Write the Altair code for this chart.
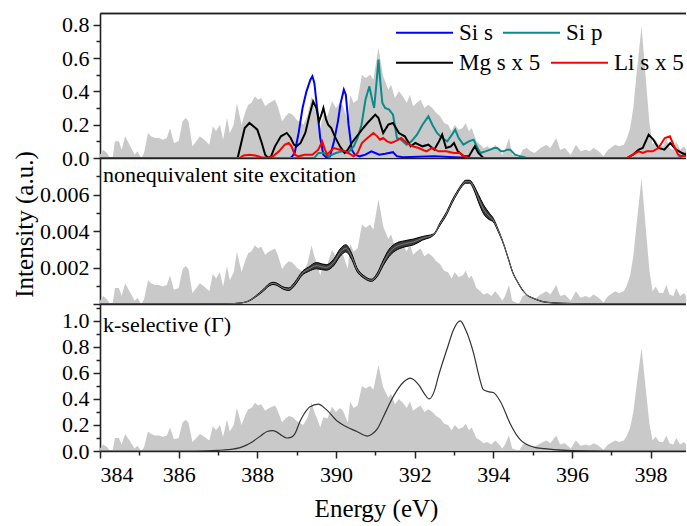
import altair as alt
import pandas as pd

# ---------------- data ----------------
GRAY_E = [384.00, 384.08, 384.18, 384.25, 384.32, 384.38, 384.48, 384.55, 384.64, 384.75,
          384.88, 384.95, 385.05, 385.12, 385.22, 385.30, 385.40, 385.50, 385.60, 385.70,
          385.78, 385.88, 386.00, 386.10, 386.18, 386.25, 386.35, 386.45, 386.54, 386.65,
          386.78, 386.87, 386.95, 387.05, 387.13, 387.23, 387.30, 387.40, 387.48, 387.60,
          387.70, 387.77, 387.85, 387.94, 388.02, 388.10, 388.20, 388.30, 388.45, 388.52,
          388.63, 388.72, 388.80, 388.90, 389.00, 389.17, 389.28, 389.38, 389.45, 389.52,
          389.60, 389.68, 389.78, 389.90, 390.00, 390.10, 390.18, 390.30, 390.36, 390.45,
          390.55, 390.66, 390.75, 390.87, 390.95, 391.08, 391.20, 391.33, 391.40, 391.50,
          391.60, 391.70, 391.80, 391.88, 391.96, 392.05, 392.15, 392.25, 392.35, 392.45,
          392.55, 392.65, 392.75, 392.85, 392.94, 393.02, 393.12, 393.22, 393.30, 393.38,
          393.45, 393.57, 393.67, 393.75, 393.85, 393.95, 394.05, 394.15, 394.23, 394.30,
          394.40, 394.48, 394.58, 394.65, 394.75, 394.85, 394.95, 395.05, 395.20, 395.35,
          395.45, 395.60, 395.70, 395.82, 395.97, 396.10, 396.22, 396.35, 396.45, 396.55,
          396.68, 396.80, 396.92, 397.10, 397.20, 397.32, 397.40, 397.48, 397.56, 397.65,
          397.77, 397.87, 397.97, 398.05, 398.13, 398.22, 398.32, 398.40, 398.48, 398.58,
          398.65, 398.75, 398.85, 398.90]
GRAY_I = [0.02, 0.05, 0.03, 0.00, 0.00, 0.10, 0.10, 0.05, 0.13, 0.08,
          0.02, 0.04, 0.00, 0.03, 0.15, 0.13, 0.12, 0.12, 0.11, 0.12,
          0.18, 0.09, 0.10, 0.22, 0.24, 0.22, 0.07, 0.10, 0.13, 0.11,
          0.08, 0.19, 0.16, 0.20, 0.11, 0.24, 0.15, 0.20, 0.33, 0.20,
          0.28, 0.32, 0.33, 0.37, 0.35, 0.36, 0.31, 0.33, 0.35, 0.31,
          0.22, 0.25, 0.27, 0.26, 0.23, 0.20, 0.26, 0.37, 0.30, 0.25,
          0.18, 0.26, 0.25, 0.34, 0.30, 0.33, 0.31, 0.22, 0.38, 0.33,
          0.35, 0.50, 0.48, 0.50, 0.47, 0.66, 0.49, 0.41, 0.44, 0.36,
          0.40, 0.37, 0.33, 0.38, 0.31, 0.33, 0.35, 0.30, 0.32, 0.30,
          0.27, 0.25, 0.21, 0.20, 0.16, 0.20, 0.17, 0.18, 0.21, 0.16,
          0.18, 0.10, 0.08, 0.06, 0.07, 0.05, 0.08, 0.05, 0.02, 0.05,
          0.12, 0.02, 0.01, 0.00, 0.05, 0.06, 0.04, 0.03, 0.06, 0.08,
          0.06, 0.12, 0.05, 0.06, 0.02, 0.08, 0.04, 0.05, 0.04, 0.06,
          0.04, 0.01, 0.05, 0.08, 0.07, 0.08, 0.12, 0.18, 0.30, 0.52,
          0.79, 0.50, 0.21, 0.08, 0.11, 0.07, 0.07, 0.12, 0.06, 0.05,
          0.10, 0.05, 0.07, 0.05]
GRAY_MID_SCALE = 0.0087
GRAY_BOT_SCALE = 1.0

SIS_E = [384.0, 388.85, 388.95, 389.05, 389.15, 389.25, 389.35, 389.40, 389.45, 389.52,
         389.60, 389.68, 389.75, 389.85, 389.95, 390.05, 390.12, 390.20, 390.25, 390.32,
         390.40, 390.48, 390.60, 390.75, 390.90, 391.00, 391.10, 391.25, 391.45, 391.55,
         391.70, 392.50, 393.00, 393.50, 398.70, 398.90]
SIS_I = [0.0, 0.0, 0.03, 0.15, 0.30, 0.40, 0.47, 0.49, 0.45, 0.30,
         0.12, 0.02, 0.005, 0.01, 0.10, 0.22, 0.33, 0.41, 0.38, 0.20,
         0.05, 0.02, 0.01, 0.02, 0.04, 0.03, 0.02, 0.025, 0.035, 0.01,
         0.005, 0.01, 0.005, 0.0, 0.0, 0.02]

SIP_E = [384.0, 389.45, 389.55, 389.70, 389.80, 390.00, 390.15, 390.30, 390.45, 390.55,
         390.65, 390.75, 390.85, 390.92, 390.97, 391.03, 391.08, 391.13, 391.18, 391.25,
         391.35, 391.45, 391.55, 391.65, 391.80, 391.92, 392.06, 392.20, 392.35, 392.45,
         392.57, 392.70, 392.83, 392.95, 393.03, 393.12, 393.24, 393.38, 393.50, 393.60,
         393.67, 393.80, 393.92, 394.02, 394.10, 394.20, 394.26, 394.35, 394.43, 394.55,
         394.69, 394.85, 398.70, 398.85, 398.90]
SIP_I = [0.0, 0.0, 0.03, 0.03, 0.01, 0.03, 0.04, 0.03, 0.07, 0.12,
         0.20, 0.35, 0.43, 0.35, 0.30, 0.45, 0.59, 0.45, 0.33, 0.30,
         0.29, 0.26, 0.12, 0.11, 0.08, 0.10, 0.14, 0.20, 0.25, 0.20,
         0.15, 0.12, 0.10, 0.14, 0.17, 0.12, 0.08, 0.10, 0.11, 0.06,
         0.03, 0.04, 0.05, 0.06, 0.06, 0.04, 0.04, 0.05, 0.05, 0.02,
         0.01, 0.0, 0.0, 0.02, 0.03]

MG_E = [384.0, 387.50, 387.58, 387.68, 387.80, 387.90, 388.00, 388.10, 388.20, 388.27,
        388.35, 388.45, 388.60, 388.75, 388.85, 388.93, 389.00, 389.10, 389.22, 389.32,
        389.42, 389.50, 389.57, 389.63, 389.68, 389.75, 389.80, 389.88, 389.97, 390.10,
        390.22, 390.30, 390.40, 390.53, 390.66, 390.80, 390.92, 391.00, 391.08, 391.20,
        391.33, 391.45, 391.60, 391.75, 391.90, 392.02, 392.20, 392.35, 392.50, 392.62,
        392.70, 392.80, 392.92, 393.00, 393.10, 393.25, 393.38, 393.53, 393.62, 393.75,
        397.40, 397.55, 397.70, 397.80, 397.95, 398.07, 398.20, 398.35, 398.50, 398.65,
        398.80, 398.90]
MG_I = [0.0, 0.0, 0.08, 0.18, 0.21, 0.19, 0.17, 0.10, 0.02, 0.0,
        0.01, 0.07, 0.13, 0.15, 0.12, 0.08, 0.07, 0.09, 0.15, 0.25,
        0.34, 0.30, 0.22, 0.26, 0.30, 0.23, 0.20, 0.18, 0.13, 0.07,
        0.03, 0.05, 0.09, 0.13, 0.17, 0.21, 0.24, 0.26, 0.24, 0.15,
        0.20, 0.21, 0.15, 0.13, 0.07, 0.09, 0.07, 0.08, 0.05, 0.10,
        0.14, 0.06, 0.07, 0.09, 0.04, 0.01, 0.01, 0.07, 0.03, 0.0,
        0.0, 0.02, 0.05, 0.06, 0.14, 0.11, 0.06, 0.05, 0.09, 0.05,
        0.03, 0.02]

LI_E = [384.0, 387.55, 387.65, 387.80, 387.95, 388.10, 388.27, 388.40, 388.55, 388.70,
        388.80, 388.87, 388.95, 389.05, 389.20, 389.40, 389.55, 389.65, 389.72, 389.78,
        389.85, 389.95, 390.10, 390.25, 390.45, 390.55, 390.66, 390.80, 390.95, 391.05,
        391.12, 391.20, 391.30, 391.40, 391.50, 391.66, 391.80, 391.95, 392.10, 392.30,
        392.45, 392.60, 392.80, 393.00, 393.15, 393.25, 393.40, 397.40, 397.55, 397.70,
        397.80, 397.90, 398.05, 398.20, 398.36, 398.49, 398.60, 398.70, 398.80, 398.90]
LI_I = [0.0, 0.0, 0.015, 0.02, 0.015, 0.005, 0.0, 0.01, 0.04, 0.08,
        0.09, 0.07, 0.02, 0.01, 0.02, 0.02, 0.05, 0.10, 0.05, 0.02,
        0.04, 0.06, 0.05, 0.04, 0.01, 0.03, 0.09, 0.12, 0.15, 0.13,
        0.11, 0.12, 0.10, 0.09, 0.10, 0.12, 0.09, 0.07, 0.06, 0.04,
        0.06, 0.04, 0.04, 0.03, 0.03, 0.01, 0.0, 0.0, 0.02, 0.04,
        0.03, 0.04, 0.04, 0.06, 0.12, 0.13, 0.07, 0.02, 0.01, 0.01]

SERIES_ROW1 = ["Si s", "Si p"]
COLORS_ROW1 = ["#0000ff", "#0a8a8a"]
SERIES_ROW2 = ["Mg s x 5", "Li s x 5"]
COLORS_ROW2 = ["#000000", "#ff0000"]

# nonequivalent site excitation: envelope of the bundle of curves
NE_E = [384.0, 386.5, 387.2, 387.5, 387.74, 387.95, 388.16, 388.30, 388.40, 388.50,
        388.65, 388.80, 388.95, 389.15, 389.30, 389.50, 389.75, 389.95, 390.10, 390.25,
        390.40, 390.53, 390.70, 390.90, 391.05, 391.20, 391.35, 391.50, 391.75, 391.97,
        392.20, 392.48, 392.65, 392.82, 392.95, 393.08, 393.20, 393.30, 393.40, 393.50,
        393.62, 393.75, 393.90, 394.00, 394.13, 394.26, 394.38, 394.50, 394.62, 394.73,
        394.85, 395.00, 395.33, 395.70, 396.00, 396.50, 398.90]
NE_LO = [0.0, 0.0, 0.00001, 0.00004, 0.00012, 0.00037, 0.00072, 0.00099, 0.00107, 0.00102,
         0.00082, 0.00074, 0.00101, 0.00160, 0.00178, 0.00193, 0.00185, 0.00212, 0.00260, 0.00285,
         0.00244, 0.00180, 0.00143, 0.00124, 0.00150, 0.00210, 0.00260, 0.00290, 0.00313, 0.00324,
         0.00350, 0.00376, 0.00433, 0.00492, 0.00552, 0.00603, 0.00643, 0.00662, 0.00662, 0.00628,
         0.00560, 0.00495, 0.00462, 0.00450, 0.00394, 0.00327, 0.00248, 0.00168, 0.00118, 0.00078,
         0.00049, 0.00032, 0.00009, 0.00003, 0.00001, 0.0, 0.0]
NE_HI = [0.0, 0.0, 0.00001, 0.00004, 0.00014, 0.00043, 0.00082, 0.00111, 0.00119, 0.00114,
         0.00094, 0.00088, 0.00119, 0.00180, 0.00202, 0.00227, 0.00215, 0.00248, 0.00300, 0.00325,
         0.00276, 0.00200, 0.00157, 0.00136, 0.00170, 0.00240, 0.00300, 0.00330, 0.00347, 0.00356,
         0.00370, 0.00384, 0.00447, 0.00508, 0.00568, 0.00617, 0.00657, 0.00678, 0.00678, 0.00652,
         0.00600, 0.00545, 0.00498, 0.00470, 0.00406, 0.00333, 0.00252, 0.00172, 0.00122, 0.00082,
         0.00051, 0.00034, 0.00011, 0.00005, 0.00003, 0.0, 0.0]

# k-selective (Gamma)
KS_E = [384.0, 386.4, 387.0, 387.26, 387.6, 387.87, 388.1, 388.25, 388.38, 388.5,
        388.62, 388.75, 388.85, 388.95, 389.09, 389.2, 389.34, 389.55, 389.75, 390.03,
        390.24, 390.53, 390.8, 390.92, 391.05, 391.2, 391.46, 391.72, 391.89, 392.1,
        392.25, 392.37, 392.5, 392.6, 392.82, 393.0, 393.16, 393.3, 393.5, 393.65,
        393.75, 393.9, 394.0, 394.18, 394.43, 394.6, 394.69, 394.85, 395.03, 395.3,
        395.54, 396.0, 397.0, 398.9]
KS_I = [0.0, 0.0, 0.005, 0.01, 0.03, 0.07, 0.12, 0.15, 0.156, 0.145,
        0.12, 0.10, 0.105, 0.13, 0.23, 0.29, 0.34, 0.36, 0.32, 0.23,
        0.19, 0.15, 0.115, 0.13, 0.17, 0.26, 0.42, 0.53, 0.56, 0.51,
        0.44, 0.40, 0.46, 0.57, 0.78, 0.94, 1.0, 0.93, 0.75, 0.56,
        0.47, 0.455, 0.45, 0.38, 0.21, 0.12, 0.085, 0.05, 0.03, 0.018,
        0.01, 0.003, 0.0, 0.0]

X_TICKS = list(range(384, 399))
TOP_TICKS = [0.0, 0.1, 0.2, 0.3, 0.4, 0.5, 0.6, 0.7, 0.8]
MID_TICKS = [0.0, 0.001, 0.002, 0.003, 0.004, 0.005, 0.006, 0.007]
BOT_TICKS = [0.0, 0.1, 0.2, 0.3, 0.4, 0.5, 0.6, 0.7, 0.8, 0.9, 1.0, 1.1]

# ---------------- tables ----------------
gray_top = pd.DataFrame({"E": GRAY_E, "I": GRAY_I})
gray_mid = pd.DataFrame({"E": GRAY_E, "I": [v * GRAY_MID_SCALE for v in GRAY_I]})
gray_bot = pd.DataFrame({"E": GRAY_E, "I": [v * GRAY_BOT_SCALE for v in GRAY_I]})

pdos1 = pd.concat([
    pd.DataFrame({"E": SIS_E, "I": SIS_I, "s": SERIES_ROW1[0]}),
    pd.DataFrame({"E": SIP_E, "I": SIP_I, "s": SERIES_ROW1[1]}),
], ignore_index=True)
pdos2 = pd.concat([
    pd.DataFrame({"E": MG_E, "I": MG_I, "s": SERIES_ROW2[0]}),
    pd.DataFrame({"E": LI_E, "I": LI_I, "s": SERIES_ROW2[1]}),
], ignore_index=True)

ne = pd.DataFrame({"E": NE_E, "lo": NE_LO, "hi": NE_HI,
                   "mid": [(a + b) / 2 for a, b in zip(NE_LO, NE_HI)]})
ks = pd.DataFrame({"E": KS_E, "I": KS_I})

# ---------------- layout ----------------
FONT = "Liberation Serif"
W = 586
XDOM = [384, 398.9]
GRAY = "#c9c9c9"

xscale = alt.Scale(domain=XDOM, nice=False, zero=False)
x_plain = alt.Axis(title=None, labels=False, ticks=False, domain=True, orient="bottom")
x_top = alt.Axis(title=None, labels=False, ticks=False, domain=True, orient="top")
x_bottom = alt.Axis(
    title="Energy (eV)", values=X_TICKS, orient="bottom",
    labelExpr="datum.value % 2 == 0 ? format(datum.value, 'd') : ''",
    tickSize={"condition": {"test": "datum.value % 2 == 0", "value": 7}, "value": 4},
    labelPadding=6, titlePadding=11, titleX=276,
    labelFont=FONT, labelFontSize=22, titleFont=FONT, titleFontSize=25,
)


def yaxis(values, labelexpr, major_test, **kw):
    return alt.Axis(values=values, labelExpr=labelexpr,
                    tickSize={"condition": {"test": major_test, "value": 7}, "value": 4},
                    labelPadding=4, labelFont=FONT, labelFontSize=22, **kw)


y_top_axis = yaxis(TOP_TICKS,
                   "round(datum.value*10) % 2 == 0 ? format(datum.value, '.1f') : ''",
                   "round(datum.value*10) % 2 == 0", title=None)
y_mid_axis = yaxis(MID_TICKS,
                   "indexof([2,4,6], round(datum.value*1000)) >= 0 ? format(datum.value, '.3f') : ''",
                   "round(datum.value*1000) % 2 == 0",
                   title="Intensity (a.u.)", titlePadding=2, titleY=66,
                   titleFont=FONT, titleFontSize=25)
y_bot_axis = yaxis(BOT_TICKS,
                   "round(datum.value*10) % 2 == 0 ? format(datum.value, '.1f') : ''",
                   "round(datum.value*10) % 2 == 0", title=None)

ytop = alt.Scale(domain=[0, 0.87], nice=False, zero=False)
ymid = alt.Scale(domain=[0, 0.008], nice=False, zero=False)
ybot = alt.Scale(domain=[0, 1.13], nice=False, zero=False)


def row_legend(y):
    return alt.Legend(title=None, orient="none", legendX=295, legendY=y,
                      direction="horizontal", columnPadding=6,
                      symbolType="stroke", symbolSize=3249, symbolStrokeWidth=2,
                      labelFont=FONT, labelFontSize=23, labelOffset=5, padding=0,
                      labelLimit=0, labelColor="black")


# ---- top panel ----
top_gray = alt.Chart(gray_top).mark_area(color=GRAY, clip=True).encode(
    x=alt.X("E:Q", scale=xscale, axis=x_plain),
    y=alt.Y("I:Q", scale=ytop, axis=y_top_axis),
)
top_lines1 = alt.Chart(pdos1).mark_line(strokeWidth=2, clip=True).encode(
    x=alt.X("E:Q", scale=xscale, axis=x_top),
    y=alt.Y("I:Q", scale=ytop, axis=y_top_axis),
    color=alt.Color("s:N", scale=alt.Scale(domain=SERIES_ROW1, range=COLORS_ROW1),
                    legend=row_legend(-10)),
)
top_lines2 = alt.Chart(pdos2).mark_line(strokeWidth=2, clip=True).encode(
    x=alt.X("E:Q", scale=xscale, axis=x_top),
    y=alt.Y("I:Q", scale=ytop, axis=y_top_axis),
    color=alt.Color("s:N", scale=alt.Scale(domain=SERIES_ROW2, range=COLORS_ROW2),
                    legend=row_legend(20)),
)
top = alt.layer(top_gray, top_lines1, top_lines2).resolve_axis(x="independent").resolve_scale(
    color="independent").properties(width=W, height=145)

# ---- middle panel ----
mid_gray = alt.Chart(gray_mid).mark_area(color=GRAY, clip=True).encode(
    x=alt.X("E:Q", scale=xscale, axis=x_plain),
    y=alt.Y("I:Q", scale=ymid, axis=y_mid_axis),
)
mid_band = alt.Chart(ne).mark_area(color="#3a3a3a", interpolate="monotone", clip=True).encode(
    x=alt.X("E:Q", scale=xscale, axis=x_plain),
    y=alt.Y("lo:Q", scale=ymid, axis=y_mid_axis),
    y2="hi:Q",
)
mid_lo = alt.Chart(ne).mark_line(color="black", strokeWidth=1, interpolate="monotone", clip=True).encode(
    x=alt.X("E:Q", scale=xscale, axis=x_plain),
    y=alt.Y("lo:Q", scale=ymid, axis=y_mid_axis),
)
mid_hi = alt.Chart(ne).mark_line(color="black", strokeWidth=1, interpolate="monotone", clip=True).encode(
    x=alt.X("E:Q", scale=xscale, axis=x_plain),
    y=alt.Y("hi:Q", scale=ymid, axis=y_mid_axis),
)
mid_c = alt.Chart(ne).mark_line(color="#8a8a8a", strokeWidth=0.8, interpolate="monotone", clip=True).encode(
    x=alt.X("E:Q", scale=xscale, axis=x_plain),
    y=alt.Y("mid:Q", scale=ymid, axis=y_mid_axis),
)
mid_text = alt.Chart(pd.DataFrame({"t": ["nonequivalent site excitation"]})).mark_text(
    align="left", baseline="alphabetic", font=FONT, fontSize=22, color="black"
).encode(text="t:N", x=alt.value(3), y=alt.value(24))
mid = alt.layer(mid_gray, mid_band, mid_lo, mid_hi, mid_c, mid_text).properties(width=W, height=146)

# ---- bottom panel ----
bot_gray = alt.Chart(gray_bot).mark_area(color=GRAY, clip=True).encode(
    x=alt.X("E:Q", scale=xscale, axis=x_bottom),
    y=alt.Y("I:Q", scale=ybot, axis=y_bot_axis),
)
bot_line = alt.Chart(ks).mark_line(color="#333333", strokeWidth=1.2, interpolate="monotone", clip=True).encode(
    x=alt.X("E:Q", scale=xscale, axis=x_bottom),
    y=alt.Y("I:Q", scale=ybot, axis=y_bot_axis),
)
bot_text = alt.Chart(pd.DataFrame({"t": ["k-selective (\u0393)"]})).mark_text(
    align="left", baseline="alphabetic", font=FONT, fontSize=22, color="black"
).encode(text="t:N", x=alt.value(3), y=alt.value(28))
bot = alt.layer(bot_gray, bot_line, bot_text).properties(width=W, height=147)

chart = alt.vconcat(top, mid, bot, spacing=0, bounds="flush").properties(
    padding={"left": 12, "top": 3, "right": 0, "bottom": 4}
).configure_view(stroke=None).configure_axis(
    grid=False,
    labelFont=FONT, labelFontSize=22, labelColor="black",
    titleFont=FONT, titleFontSize=25, titleFontWeight="normal", titleColor="black",
    domainColor="#222222", domainWidth=1.6, tickColor="#222222", tickWidth=1.5,
    labelOverlap=False,
).configure_legend(labelFont=FONT)

chart.save("out.html", embed_options={"renderer": "svg", "actions": False})
